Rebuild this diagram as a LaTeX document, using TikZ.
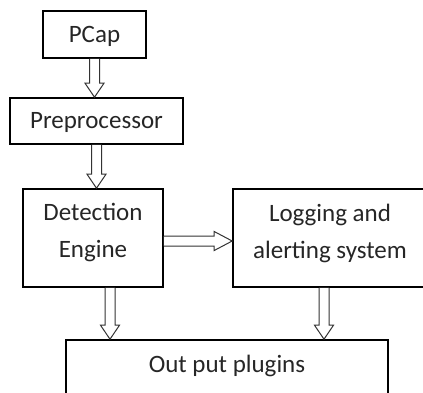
\documentclass[tikz,border=0pt]{standalone}
\usepackage{fontspec}
\setmainfont{Carlito}
\usetikzlibrary{calc}
\tikzset{
  box/.style={draw=black, line width=1.6pt, rectangle, inner sep=0pt, align=center},
  txt/.style={font=\fontsize{25}{37}\selectfont, text=black!85, align=center, inner sep=0pt},
  barr/.style={draw=black!80, line width=1pt, fill=white, line join=miter}
}
\newcommand\downarrowblk[2]{%
  \draw[barr] let \p1=#1, \p2=#2 in
    (\x1-5pt,\y1) -- (\x1-5pt,\y2+14pt) -- (\x1-9.5pt,\y2+14pt) -- (\x1,\y2)
    -- (\x1+9.5pt,\y2+14pt) -- (\x1+5pt,\y2+14pt) -- (\x1+5pt,\y1);}
\newcommand\rightarrowblk[2]{%
  \draw[barr] let \p1=#1, \p2=#2 in
    (\x1,\y1+5pt) -- (\x2-18pt,\y1+5pt) -- (\x2-18pt,\y1+9.5pt) -- (\x2,\y1)
    -- (\x2-18pt,\y1-9.5pt) -- (\x2-18pt,\y1-5pt) -- (\x1,\y1-5pt);}
\begin{document}
\begin{tikzpicture}[x=1pt,y=-1pt]
\useasboundingbox (0,0) rectangle (423,392);
\node[box, minimum width=103pt, minimum height=47pt] (pcap) at (94.5,34.5) {};
\node[txt] (pcapt) at (94.5,36) {PCap};
\node[box, minimum width=173pt, minimum height=46pt] (pre) at (96.5,121) {};
\node[txt] (pret) at (96.5,122) {Preprocessor};
\node[box, minimum width=140pt, minimum height=98pt] (det) at (93,238) {};
\node[txt] (dett) at (93,232) {Detection\\Engine};
\node[box, minimum width=194pt, minimum height=98pt] (log) at (330,238) {};
\node[txt] (logt) at (330,233) {Logging and\\alerting system};
\node[box, minimum width=322pt, minimum height=70pt] (out) at (227,375) {};
\node[txt] (outt) at (227,366) {Out put plugins};
\downarrowblk{(pcap.south)}{(pre.north)}
\downarrowblk{(pre.south)}{(det.north)}
\downarrowblk{($(det.south)+(17,0)$)}{(out.north)}
\downarrowblk{($(log.south)+(-6,0)$)}{(out.north)}
\rightarrowblk{($(det.east)+(0,3)$)}{(log.west)}
\end{tikzpicture}
\end{document}
